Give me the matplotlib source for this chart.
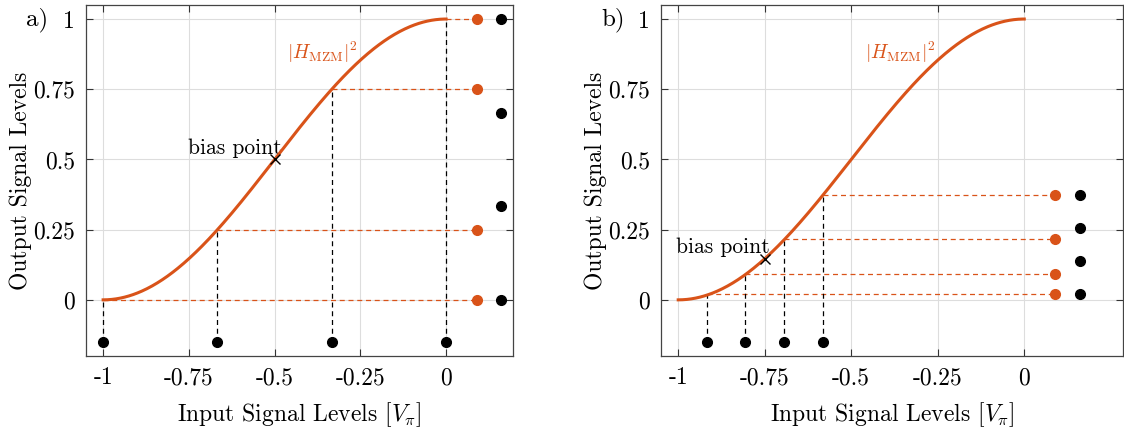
import numpy as np
import matplotlib
matplotlib.use("Agg")
import matplotlib.pyplot as plt

plt.rcParams['font.family'] = 'serif'
plt.rcParams['font.serif'] = ['cmr10']
plt.rcParams['mathtext.fontset'] = 'cm'
plt.rcParams['axes.unicode_minus'] = False
plt.rcParams['axes.formatter.use_mathtext'] = True

ORANGE = '#D95319'

# Eingangs-/Ausgangspegel
x_in_a = [-1.0, -0.667, -0.333, 0.0]
y_out_a = [0.0, 0.25, 0.75, 1.0]
y_lvl_a = [0.0, 0.333, 0.667, 1.0]
bias_a = (-0.5, 0.5)

x_in_b = [-0.918, -0.806, -0.693, -0.581]
y_out_b = [0.02, 0.093, 0.215, 0.372]
y_lvl_b = [0.02, 0.137, 0.255, 0.372]
bias_b = (-0.75, 0.146)

x_ticks = [-1, -0.75, -0.5, -0.25, 0]
x_tick_labels = ['-1', '-0.75', '-0.5', '-0.25', '0']
y_ticks = [0, 0.25, 0.5, 0.75, 1]
y_tick_labels = ['0', '0.25', '0.5', '0.75', '1']

x_orange = 0.09
x_black = 0.16
y_bottom = -0.15

# MZM-Kennlinie |H|^2 = cos^2(pi V / 2)
v = np.linspace(-1, 0, 400)
h2 = np.cos(np.pi * v / 2) ** 2

fig = plt.figure(figsize=(11.24, 4.34), dpi=100)
ax_a = fig.add_axes([0.0765, 0.1797, 0.3799, 0.8088])
ax_b = fig.add_axes([0.588, 0.1797, 0.411, 0.8088])


def panel(ax, xin, yout, ylvl, bias, xmax, bias_off):
    for xi, yi, yl in zip(xin, yout, ylvl):
        ax.plot([xi, xi], [y_bottom, yi], '--', color='black', lw=0.9, dashes=(4, 3))
        ax.plot([xi, x_orange], [yi, yi], '--', color=ORANGE, lw=0.9, dashes=(4, 3))
    ax.plot(v, h2, color=ORANGE, lw=2.2, zorder=5)
    ax.plot(xin, [y_bottom] * len(xin), 'o', color='black', ms=7, zorder=6)
    ax.plot([x_orange] * len(yout), yout, 'o', color=ORANGE, ms=7, zorder=6)
    ax.plot([x_black] * len(ylvl), ylvl, 'o', color='black', ms=7, zorder=6)
    ax.plot(*bias, 'x', color='black', ms=7, mew=1.0, zorder=7)
    ax.text(bias[0] + bias_off, bias[1] + 0.005, 'bias point', ha='right', va='bottom', fontsize=15.5)
    ax.text(-0.36, 0.88, r'$|H_{\mathrm{MZM}}|^2$', color=ORANGE, fontsize=14, ha='center', va='center')

    ax.set_xlim(-1.05, xmax)
    ax.set_ylim(-0.2, 1.05)
    ax.set_xticks(x_ticks)
    ax.set_xticklabels(x_tick_labels)
    ax.set_yticks(y_ticks)
    ax.set_yticklabels(y_tick_labels)
    ax.tick_params(direction='in', top=True, right=True, labelsize=17, length=5,
                   color='#333333', pad=8)
    ax.grid(True, color='#dddddd', lw=0.8)
    ax.set_axisbelow(True)
    for s in ax.spines.values():
        s.set_color('#444444')
        s.set_linewidth(0.9)
    ax.set_xlabel(r'Input Signal Levels $[V_\pi]$', fontsize=17, labelpad=8)
    ax.set_ylabel('Output Signal Levels', fontsize=17, labelpad=1)


panel(ax_a, x_in_a, y_out_a, y_lvl_a, bias_a, 0.195, 0.02)
panel(ax_b, x_in_b, y_out_b, y_lvl_b, bias_b, 0.285, 0.015)

fig.text(0.033, 0.955, 'a)', fontsize=18, ha='center', va='center')
fig.text(0.545, 0.955, 'b)', fontsize=18, ha='center', va='center')

fig.savefig('out.png', dpi=100)
